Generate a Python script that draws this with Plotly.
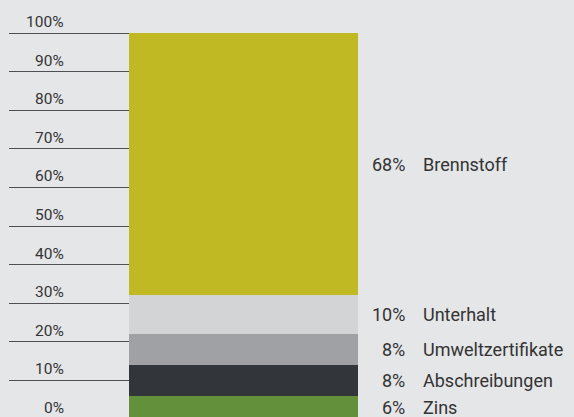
import plotly.graph_objects as go

categories = ["Zins", "Abschreibungen", "Umweltzertifikate", "Unterhalt", "Brennstoff"]
values = [6, 8, 8, 10, 68]
colors = ["#63903a", "#32363a", "#a0a1a4", "#d3d4d6", "#c0b924"]
tick_values = [0, 10, 20, 30, 40, 50, 60, 70, 80, 90, 100]
tick_labels = [f"{t}%" for t in tick_values]

W, H = 574, 417
ML, MR, MT, MB = 9, 216, 20, 0
plot_w = W - ML - MR
BG = "#e5e6e8"
Y_RANGE = [0.52, 103.37]


def px_to_paper(x):
    return (x - ML) / plot_w


def val_to_paper_y(v):
    return (v - Y_RANGE[0]) / (Y_RANGE[1] - Y_RANGE[0])


fig = go.Figure()
for cat, val, col in zip(categories, values, colors):
    fig.add_trace(go.Bar(x=[0.5], y=[val], width=1, name=cat,
                         marker=dict(color=col, line=dict(width=0)),
                         hoverinfo="skip"))

annotations = []
for t, lab in zip(tick_values, tick_labels):
    annotations.append(dict(x=px_to_paper(66), xref="paper",
                            y=val_to_paper_y(t), yref="paper",
                            text=lab, showarrow=False, xanchor="right",
                            yanchor="middle", yshift=11,
                            font=dict(family="Roboto", size=15.5, color="#333333")))

base = 0
for cat, val in zip(categories, values):
    mid = base + val / 2
    base += val
    annotations.append(dict(x=px_to_paper(407), xref="paper", y=mid, yref="y",
                            text=f"{val}%", showarrow=False, xanchor="right",
                            yanchor="middle",
                            font=dict(family="Roboto", size=18, color="#333333")))
    annotations.append(dict(x=px_to_paper(421), xref="paper", y=mid, yref="y",
                            text=cat, showarrow=False, xanchor="left",
                            yanchor="middle",
                            font=dict(family="Roboto", size=18, color="#333333")))

fig.update_layout(
    width=W, height=H,
    margin=dict(l=ML, r=MR, t=MT, b=MB, pad=0),
    barmode="stack",
    bargap=0,
    showlegend=False,
    paper_bgcolor=BG,
    plot_bgcolor=BG,
    xaxis=dict(range=[-0.524, 1], visible=False, fixedrange=True),
    yaxis=dict(range=Y_RANGE, tick0=0, dtick=10, showgrid=True,
               gridcolor="#4f4f52", gridwidth=1, zeroline=False,
               showticklabels=False, ticks="", showline=False, fixedrange=True),
    annotations=annotations,
)

fig.write_html(
    "out.html",
    config={"displayModeBar": False},
    post_script=(
        "document.body.style.margin='0';"
        "document.body.style.padding='0';"
        "document.body.style.overflow='hidden';"
        f"document.body.style.background='{BG}';"
    ),
)
